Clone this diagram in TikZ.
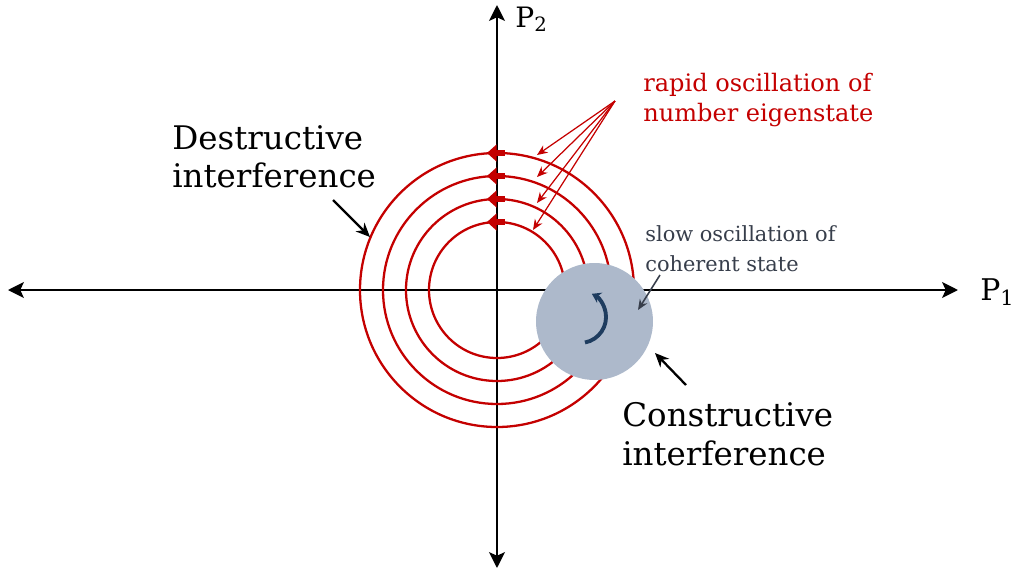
\documentclass[tikz,border=0pt]{standalone}
\usepackage{fontspec}
\setmainfont{DejaVu Serif}
\usetikzlibrary{arrows.meta}
\definecolor{osc}{RGB}{196,0,0}
\definecolor{blobgray}{RGB}{173,185,203}
\definecolor{slowgray}{RGB}{55,62,75}
\definecolor{spin}{RGB}{30,60,95}

\begin{document}
\begin{tikzpicture}[x=0.02cm,y=0.02cm,
    axis/.style={line width=1.3pt,{Stealth[length=9pt,width=9pt,inset=2pt]}-{Stealth[length=9pt,width=9pt,inset=2pt]}},
    orbit/.style={osc,line width=1.3pt},
    flow/.style={osc,line width=3.4pt,-{Triangle[length=5.5pt,width=9.5pt]}},
    pointer/.style={osc,line width=0.7pt,-{Stealth[length=6pt,width=5pt]}},
    callout/.style={black,line width=1.3pt,-{Stealth[length=8pt,width=7pt]}},
    bigtext/.style={font=\fontsize{18.5}{22}\selectfont,align=left,inner sep=0pt,anchor=north west}]
    \useasboundingbox (-497,-286) rectangle (515,290);

    % Axes
    \coordinate (west) at (-489,0);
    \coordinate (east) at (461,0);
    \coordinate (south) at (0,-278);
    \coordinate (north) at (0,285);
    \draw[axis] (west) -- (east);
    \draw[axis] (south) -- (north);
    \node[anchor=base west,inner sep=0pt,font=\fontsize{17}{20}\selectfont] (pone) at (483,-10) {P\textsubscript{1}};
    \node[anchor=base west,inner sep=0pt,font=\fontsize{16}{20}\selectfont] (ptwo) at (18,263) {P\textsubscript{2}};

    % Number eigenstate orbits
    \foreach \r in {68,91,114,137} {
        \draw[orbit] (0,0) circle[radius=\r];
        \draw[flow] (8,\r) -- (-10,\r);
    }

    % Pointers to the orbits
    \node[osc,anchor=north west,inner sep=0pt,align=left,font=\fontsize{13.7}{17}\selectfont] (rapid) at (146,217) {rapid oscillation of\\number eigenstate};
    \coordinate (src) at (118,189);
    \coordinate (tipa) at (36,60);
    \coordinate (tipb) at (40,87);
    \coordinate (tipc) at (40,113);
    \coordinate (tipd) at (40,135);
    \foreach \t in {tipa,tipb,tipc,tipd}
        \draw[pointer] (src) -- (\t);

    % Coherent state
    \node[circle,fill=blobgray,minimum size=2.34cm,inner sep=0pt] (blob) at (97.5,-31.5) {};
    \draw[spin,line width=2.2pt,-{Stealth[length=5pt,width=6.5pt]}] (88,-52.5) arc[start angle=-79,end angle=63,radius=26];

    \node[slowgray,anchor=north west,inner sep=0pt,align=left,font=\fontsize{11.9}{17}\selectfont] (slow) at (148,65) {slow oscillation of\\coherent state};
    \coordinate (slowtail) at (163,15);
    \coordinate (slowtip) at (141,-20);
    \draw[slowgray,line width=0.9pt,-{Stealth[length=6pt,width=5pt]}] (slowtail) -- (slowtip);

    % Interference labels
    \node[bigtext] (destr) at (-325,165) {Destructive\\interference};
    \coordinate (destail) at (-164,90);
    \coordinate (destip) at (-127,53);
    \draw[callout] (destail) -- (destip);

    \node[bigtext] (constr) at (125,-112) {Constructive\\interference};
    \coordinate (contail) at (189,-95);
    \coordinate (contip) at (158,-63);
    \draw[callout] (contail) -- (contip);
\end{tikzpicture}
\end{document}
